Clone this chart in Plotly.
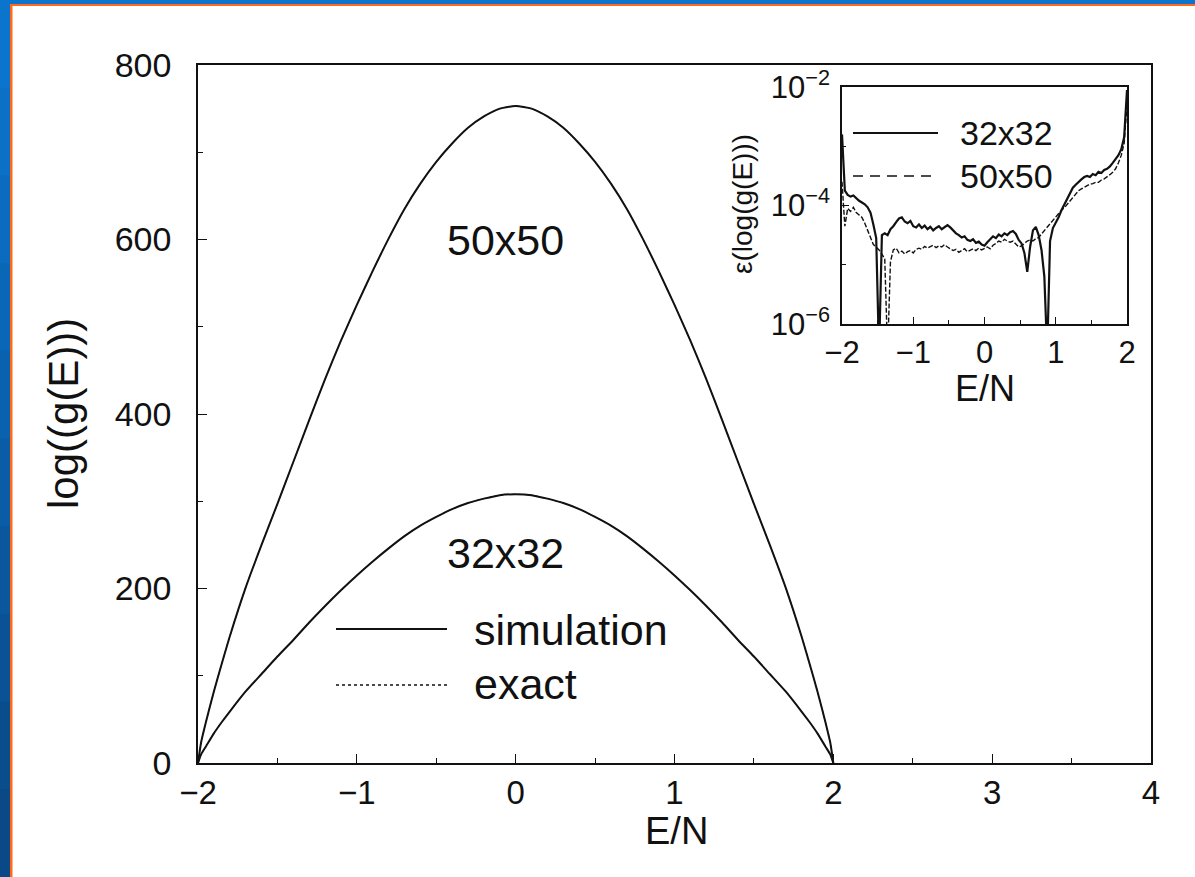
import plotly.graph_objects as go

# ---------------- main panel: log10 g(E) for two lattice sizes ----------------
energy = [-2.0, -1.98, -1.95, -1.9, -1.85, -1.8, -1.7, -1.6, -1.5, -1.4, -1.3, -1.2,
          -1.1, -1.0, -0.9, -0.8, -0.7, -0.6, -0.5, -0.4, -0.3, -0.2, -0.1, 0.0,
          0.1, 0.2, 0.3, 0.4, 0.5, 0.6, 0.7, 0.8, 0.9, 1.0, 1.1, 1.2,
          1.3, 1.4, 1.5, 1.6, 1.7, 1.8, 1.85, 1.9, 1.95, 1.98, 2.0]

log_g_50 = [0, 24, 47, 82, 114, 145, 201, 250, 297, 345, 393, 440,
            484, 525, 564, 601, 635, 664, 689, 710, 728, 741, 750, 753,
            750, 741, 728, 710, 689, 664, 635, 601, 564, 525, 484, 440,
            393, 345, 297, 250, 201, 145, 114, 82, 47, 24, 0]

log_g_32 = [0, 10, 19, 34, 47, 59, 82, 102, 122, 141, 161, 180,
            198, 215, 231, 246, 260, 272, 282, 291, 298, 303, 307, 308,
            307, 303, 298, 291, 282, 272, 260, 246, 231, 215, 198, 180,
            161, 141, 122, 102, 82, 59, 47, 34, 19, 10, 0]

x_ticks_main = [-2, -1, 0, 1, 2, 3, 4]
y_ticks_main = [0, 200, 400, 600, 800]

# ---------------- inset: relative error of log g(E) (decimal exponents) ----------------
energy_inset = [
    -2.00, -1.96, -1.92, -1.88, -1.84, -1.80, -1.76, -1.72, -1.68, -1.64,
    -1.60, -1.56, -1.52, -1.48, -1.44, -1.40, -1.36, -1.32, -1.28, -1.24,
    -1.20, -1.16, -1.12, -1.08, -1.04, -1.00, -0.96, -0.92, -0.88, -0.84,
    -0.80, -0.76, -0.72, -0.68, -0.64, -0.60, -0.56, -0.52, -0.48, -0.44,
    -0.40, -0.36, -0.32, -0.28, -0.24, -0.20, -0.16, -0.12, -0.08, -0.04,
    0.00, 0.04, 0.08, 0.12, 0.16, 0.20, 0.24, 0.28, 0.32, 0.36,
    0.40, 0.44, 0.48, 0.52, 0.56, 0.60, 0.64, 0.68, 0.72, 0.76,
    0.80, 0.84, 0.88, 0.92, 0.96, 1.00, 1.04, 1.08, 1.12, 1.16,
    1.20, 1.24, 1.28, 1.32, 1.36, 1.40, 1.44, 1.48, 1.52, 1.56,
    1.60, 1.64, 1.68, 1.72, 1.76, 1.80, 1.84, 1.88, 1.92, 1.96,
    2.00]

err_exp_32 = [
    -2.80, -3.75, -3.82, -3.85, -3.83, -3.88, -3.92, -3.95, -3.98, -4.03,
    -4.12, -4.32, -4.55, -6.50, -4.50, -4.47, -4.50, -4.40, -4.35, -4.28,
    -4.22, -4.20, -4.27, -4.30, -4.26, -4.35, -4.37, -4.32, -4.38, -4.34,
    -4.40, -4.36, -4.42, -4.38, -4.35, -4.40, -4.36, -4.33, -4.37, -4.42,
    -4.47, -4.50, -4.54, -4.52, -4.58, -4.60, -4.57, -4.63, -4.61, -4.66,
    -4.68, -4.62, -4.56, -4.52, -4.55, -4.49, -4.52, -4.47, -4.50, -4.45,
    -4.43, -4.48, -4.58, -4.64, -4.80, -5.12, -4.70, -4.42, -4.36, -4.50,
    -4.75, -5.20, -6.50, -4.60, -4.38, -4.30, -4.20, -4.08, -3.98, -3.88,
    -3.78, -3.70, -3.65, -3.60, -3.56, -3.52, -3.50, -3.52, -3.47, -3.49,
    -3.43, -3.45, -3.40, -3.38, -3.34, -3.28, -3.22, -3.15, -3.05, -2.85,
    -2.05]

err_exp_50 = [
    -3.60, -4.35, -4.05, -4.10, -4.03, -4.12, -4.16, -4.20, -4.30, -4.42,
    -4.55, -4.66, -4.70, -4.75, -4.82, -4.90, -6.50, -4.95, -4.75, -4.72,
    -4.80, -4.77, -4.82, -4.78, -4.76, -4.80, -4.74, -4.72, -4.74, -4.69,
    -4.72, -4.70, -4.67, -4.71, -4.68, -4.70, -4.66, -4.70, -4.73, -4.76,
    -4.74, -4.79, -4.76, -4.73, -4.78, -4.75, -4.73, -4.76, -4.72, -4.75,
    -4.72, -4.70, -4.73, -4.67, -4.64, -4.60, -4.62, -4.57, -4.60, -4.62,
    -4.60, -4.66, -4.70, -4.68, -4.64, -4.60, -4.58, -4.60, -4.56, -4.54,
    -4.48, -4.42, -4.38, -4.32, -4.25, -4.20, -4.14, -4.08, -4.04, -3.98,
    -3.92, -3.86, -3.80, -3.75, -3.72, -3.69, -3.66, -3.64, -3.63, -3.61,
    -3.61, -3.57, -3.55, -3.52, -3.48, -3.44, -3.38, -3.28, -3.15, -2.95,
    -2.30]

x_ticks_inset = [-2, -1, 0, 1, 2]
y_ticks_inset = [1e-6, 1e-4, 1e-2]
y_ticktext_inset = ["10<sup>\u22126</sup>", "10<sup>\u22124</sup>", "10<sup>\u22122</sup>"]

# ---------------- page geometry ----------------
W, H = 1195, 877
ML, MR, MT, MB = 198, 44, 65, 114
PW, PH = W - ML - MR, H - MT - MB


def px(x):
    return (x - ML) / PW


def py(y):
    return (H - MB - y) / PH


FONT = "Liberation Sans, Arial, Helvetica, sans-serif"
INK = "#111111"

fig = go.Figure()

for vals in (log_g_50, log_g_32):
    fig.add_trace(go.Scatter(x=energy, y=vals, mode="lines",
                             line=dict(color=INK, width=2, shape="spline", smoothing=0.6),
                             showlegend=False, hoverinfo="skip"))
    fig.add_trace(go.Scatter(x=energy, y=vals, mode="lines",
                             line=dict(color=INK, width=1, dash="dot", shape="spline", smoothing=0.6),
                             showlegend=False, hoverinfo="skip"))

fig.add_trace(go.Scatter(x=energy_inset, y=[10 ** v for v in err_exp_32], mode="lines",
                         line=dict(color=INK, width=2.2), xaxis="x2", yaxis="y2",
                         showlegend=False, hoverinfo="skip"))
fig.add_trace(go.Scatter(x=energy_inset, y=[10 ** v for v in err_exp_50], mode="lines",
                         line=dict(color=INK, width=1.4, dash="5px,2px"), xaxis="x2", yaxis="y2",
                         showlegend=False, hoverinfo="skip"))

axis_common = dict(showline=True, linecolor=INK, linewidth=1.5, mirror=True,
                   showgrid=False, zeroline=False, ticks="inside", tickcolor=INK,
                   tickwidth=1.3)

fig.update_layout(
    width=W, height=H,
    margin=dict(l=ML, r=MR, t=MT, b=MB, autoexpand=False),
    paper_bgcolor="white", plot_bgcolor="white",
    font=dict(family=FONT, color=INK),
    xaxis=dict(range=[-2, 4], tickvals=x_ticks_main, ticklen=9,
               tickfont=dict(size=33), ticklabelstandoff=0,
               minor=dict(ticks="inside", dtick=0.5, tick0=0, ticklen=5,
                          tickcolor=INK, tickwidth=1.2),
               **axis_common),
    yaxis=dict(range=[0, 800], tickvals=y_ticks_main, ticklen=9,
               tickfont=dict(size=34), ticklabelstandoff=18,
               minor=dict(ticks="inside", dtick=100, tick0=0, ticklen=5,
                          tickcolor=INK, tickwidth=1.2),
               **axis_common),
    xaxis2=dict(domain=[px(842), px(1127)], anchor="y2", range=[-2, 2],
                tickvals=x_ticks_inset, ticklen=7, tickfont=dict(size=31),
                ticklabelstandoff=0,
                minor=dict(ticks="inside", dtick=0.5, tick0=0, ticklen=4,
                           tickcolor=INK, tickwidth=1),
                **axis_common),
    yaxis2=dict(domain=[py(324), py(87)], anchor="x2", type="log", range=[-6, -2],
                tickvals=y_ticks_inset, ticktext=y_ticktext_inset, ticklen=7,
                tickfont=dict(size=31), ticklabelstandoff=4,
                minor=dict(ticks="inside", tickvals=[1e-5, 1e-3], ticklen=4,
                           tickcolor=INK, tickwidth=1),
                **axis_common),
)

# slide frame: blue bars with a thin orange rule on the top and left edges
shapes = []
blues = ["#0b74cc", "#0b70c6", "#0a6bbf", "#0a66b7", "#0a61ae", "#0a5ca6",
         "#0a579d", "#0a5295", "#0a4d8d", "#0a4886"]
band = H / len(blues)
for i, c in enumerate(blues):
    shapes.append(dict(type="rect", xref="paper", yref="paper", layer="above",
                       x0=px(0), x1=px(10), y0=py(i * band + band + 1), y1=py(i * band),
                       fillcolor=c, line=dict(width=0)))
shapes.append(dict(type="rect", xref="paper", yref="paper", layer="above",
                   x0=px(0), x1=px(W), y0=py(4), y1=py(0),
                   fillcolor="#0b74cc", line=dict(width=0)))
shapes.append(dict(type="rect", xref="paper", yref="paper", layer="above",
                   x0=px(10), x1=px(12.5), y0=py(H), y1=py(4),
                   fillcolor="#ff6a1a", line=dict(width=0)))
shapes.append(dict(type="rect", xref="paper", yref="paper", layer="above",
                   x0=px(10), x1=px(W), y0=py(6), y1=py(4),
                   fillcolor="#ff6a1a", line=dict(width=0)))

# legend keys of the main panel
shapes.append(dict(type="line", xref="paper", yref="paper",
                   x0=px(336), x1=px(447), y0=py(629), y1=py(629),
                   line=dict(color=INK, width=2)))
shapes.append(dict(type="line", xref="paper", yref="paper",
                   x0=px(336), x1=px(447), y0=py(685), y1=py(685),
                   line=dict(color=INK, width=1.5, dash="dot")))
# legend keys of the inset
shapes.append(dict(type="line", xref="paper", yref="paper",
                   x0=px(853), x1=px(938), y0=py(133), y1=py(133),
                   line=dict(color=INK, width=2)))
shapes.append(dict(type="line", xref="paper", yref="paper",
                   x0=px(853), x1=px(938), y0=py(176), y1=py(176),
                   line=dict(color=INK, width=1.6, dash="10px,7px")))
fig.update_layout(shapes=shapes)


def label(text, x, y, size, xanchor="center", angle=0):
    fig.add_annotation(text=text, xref="paper", yref="paper", x=px(x), y=py(y),
                       xanchor=xanchor, yanchor="middle", showarrow=False,
                       textangle=angle, font=dict(family=FONT, size=size, color=INK))


# axis titles
label("E/N", 676, 831, 38)
label("log((g(E)))", 63, 414, 42, angle=-90)
label("E/N", 985, 388, 36)
label("\u03b5(log(g(E)))", 742, 204, 28, angle=-90)

# curve labels and legend text
label("50x50", 505, 240, 43)
label("32x32", 505, 553, 43)
label("simulation", 472, 630, 43, xanchor="left")
label("exact", 472, 684, 43, xanchor="left")
label("32x32", 958, 133, 34, xanchor="left")
label("50x50", 958, 176, 34, xanchor="left")

fig.write_html("out.html")
